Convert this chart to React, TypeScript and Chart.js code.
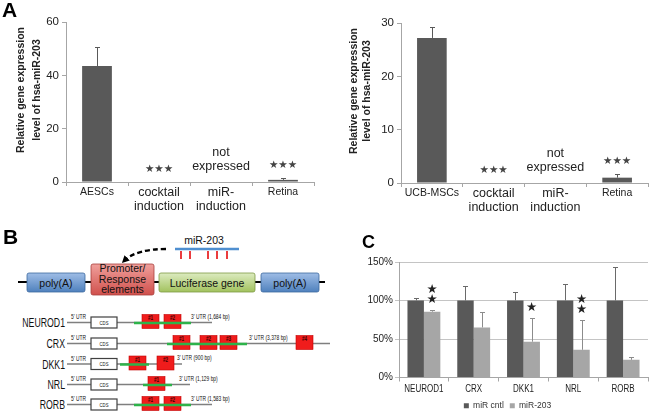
import React, { useEffect, useRef } from "react";
import { Chart, registerables } from "chart.js";
Chart.register(...registerables);

const FONT = '"Liberation Sans", Arial, sans-serif';
const STAR_FONT = '"DejaVu Sans", sans-serif';

// ---------- Panel A (left) ----------
const aLeftCategories = [["AESCs"], ["cocktail", "induction"], ["miR-", "induction"], ["Retina"]];
const aLeftValues = [43.5, 0, null, 0.8];
const aLeftErrors = [7.2, 0, null, 0.6];
// ---------- Panel A (right) ----------
const aRightCategories = [["UCB-MSCs"], ["cocktail", "induction"], ["miR-", "induction"], ["Retina"]];
const aRightValues = [27.2, 0, null, 1.0];
const aRightErrors = [2.1, 0, null, 0.7];
const aStars = ["", "★★★", "", "★★★"];
const aNotes = [[], [], ["not", "expressed"], []];
const aTitle = ["Relative gene expression", "level of hsa-miR-203"];

// ---------- Panel C ----------
const cCategories = ["NEUROD1", "CRX", "DKK1", "NRL", "RORB"];
const cSeriesNames = ["miR cntl", "miR-203"];
const cCntl = [100, 100, 100, 100, 100];
const cCntlErr = [3, 19, 11, 22, 44];
const c203 = [85.5, 65, 46.5, 36, 23];
const c203Err = [2, 20, 30.5, 39, 4];
const cStarCounts = [2, 0, 1, 2, 0];

// ---------- Panel B ----------
const geneNames = ["NEUROD1", "CRX", "DKK1", "NRL", "RORB"];
const utrTexts = ["3' UTR (1,684 bp)", "3' UTR (3,378 bp)", "3' UTR (900 bp)", "3' UTR (1,129 bp)", "3' UTR (1,583 bp)"];
const rowLineEnd = [212, 330, 182, 190, 212];
const rowGreen = [[134, 191], [167, 247], [120, 149], [143, 172], [134, 191]];
const rowSites = [[142, 164], [173, 200, 220, 296], [129, 157], [148], [142, 164]];
const rowUtrX = [191, 249, 177, 179, 191];
const rowY = [322.5, 343.5, 364, 384.5, 404.5];
const mirSiteX = [181, 190, 208, 217, 227];

const errorBarPlugin = {
  id: "errorBars",
  afterDatasetsDraw(chart: any) {
    const ctx = chart.ctx;
    const y = chart.scales.y;
    chart.data.datasets.forEach((ds: any, i: number) => {
      if (!ds.errors) return;
      const meta = chart.getDatasetMeta(i);
      meta.data.forEach((bar: any, j: number) => {
        const v = ds.data[j];
        const e = ds.errors[j];
        if (v == null || !e) return;
        const x = Math.round(bar.x) + 0.5;
        const y0 = y.getPixelForValue(v);
        const y1 = Math.round(y.getPixelForValue(v + e)) + 0.5;
        ctx.save();
        ctx.strokeStyle = ds.errorColor || "#595959";
        ctx.lineWidth = 1;
        ctx.beginPath();
        ctx.moveTo(x, y0);
        ctx.lineTo(x, y1);
        ctx.moveTo(x - 2.5, y1);
        ctx.lineTo(x + 2.5, y1);
        ctx.stroke();
        ctx.restore();
      });
    });
  },
};

function makeAChart(canvas: HTMLCanvasElement, p: any) {
  const marks = {
    id: "aMarks",
    afterDatasetsDraw(chart: any) {
      const { ctx } = chart;
      const xs = chart.scales.x;
      const ys = chart.scales.y;
      ctx.save();
      ctx.textAlign = "center";
      ctx.textBaseline = "middle";
      ctx.fillStyle = "#444";
      ctx.font = `10.5px ${STAR_FONT}`;
      aStars.forEach((s, i) => {
        if (!s) return;
        const top = (p.values[i] ?? 0) + (p.errors[i] ?? 0);
        ctx.fillText(s, xs.getPixelForValue(i), ys.getPixelForValue(top) - 13);
      });
      ctx.fillStyle = "#222";
      ctx.font = `12.5px ${FONT}`;
      aNotes.forEach((lines, i) => {
        lines.forEach((ln, k) => {
          const off = 15 + (lines.length - 1 - k) * 14;
          ctx.fillText(ln, xs.getPixelForValue(i), ys.getPixelForValue(0) - off);
        });
      });
      ctx.font = `bold 10.5px ${FONT}`;
      aTitle.forEach((ln, k) => {
        ctx.save();
        ctx.translate(p.titleX[k], p.titleY);
        ctx.rotate(-Math.PI / 2);
        ctx.fillText(ln, 0, 0);
        ctx.restore();
      });
      ctx.restore();
    },
  };
  return new Chart(canvas, {
    type: "bar",
    data: {
      labels: p.categories,
      datasets: [
        {
          data: p.values,
          errors: p.errors,
          errorColor: "#595959",
          backgroundColor: "#595959",
          borderWidth: 0,
          barPercentage: 0.48,
          categoryPercentage: 1,
        } as any,
      ],
    },
    options: {
      responsive: false,
      animation: false,
      events: [],
      layout: { padding: { left: 0, top: p.top, right: p.right, bottom: 0 } },
      plugins: { legend: { display: false }, tooltip: { enabled: false } },
      scales: {
        x: {
          offset: true,
          grid: { drawOnChartArea: false, drawTicks: true, tickLength: 4, color: "#a6a6a6", offset: true },
          border: { display: true, color: "#a6a6a6" },
          ticks: {
            padding: 0.4,
            color: "#222",
            maxRotation: 0,
            minRotation: 0,
            autoSkip: false,
            font: (c: any) => ({ family: FONT, size: c.index === 0 || c.index === 3 ? 10.5 : 12.5, lineHeight: 1.05 }),
          },
          afterFit: (s: any) => {
            s.height = p.xHeight;
          },
        },
        y: {
          min: 0,
          max: p.yMax,
          ticks: { stepSize: p.yStep, padding: 3, color: "#222", font: { family: FONT, size: 11.5 } },
          grid: { drawOnChartArea: false, drawTicks: true, tickLength: 4, color: "#a6a6a6" },
          border: { display: true, color: "#a6a6a6" },
          afterFit: (s: any) => {
            s.width = p.yWidth;
          },
        },
      },
    } as any,
    plugins: [errorBarPlugin, marks],
  });
}

function makeCChart(canvas: HTMLCanvasElement) {
  const marks = {
    id: "cMarks",
    afterDatasetsDraw(chart: any) {
      const { ctx } = chart;
      const meta = chart.getDatasetMeta(1);
      const xs = chart.scales.x;
      const ys = chart.scales.y;
      ctx.save();
      ctx.textAlign = "center";
      ctx.textBaseline = "middle";
      ctx.fillStyle = "#222";
      ctx.font = `12.5px ${STAR_FONT}`;
      cStarCounts.forEach((n, i) => {
        const top = ys.getPixelForValue(c203[i] + c203Err[i]);
        for (let k = 0; k < n; k++) {
          ctx.fillText("★", meta.data[i].x, top - 10 - k * 10);
        }
      });
      // condensed category labels (the reference uses a narrow face)
      ctx.font = `10px ${FONT}`;
      ctx.fillStyle = "#222";
      cCategories.forEach((lab, i) => {
        ctx.save();
        ctx.translate(xs.getPixelForValue(i), ys.bottom + 11.5);
        ctx.scale(0.8, 1);
        ctx.fillText(lab, 0, 0);
        ctx.restore();
      });
      ctx.restore();
    },
  };
  return new Chart(canvas, {
    type: "bar",
    data: {
      labels: cCategories,
      datasets: [
        { label: cSeriesNames[0], data: cCntl, errors: cCntlErr, errorColor: "#6a6a6a", backgroundColor: "#595959", borderWidth: 0 } as any,
        { label: cSeriesNames[1], data: c203, errors: c203Err, errorColor: "#8c8c8c", backgroundColor: "#a6a6a6", borderWidth: 0 } as any,
      ],
    },
    options: {
      responsive: false,
      animation: false,
      events: [],
      datasets: { bar: { barPercentage: 1, categoryPercentage: 0.66 } },
      layout: { padding: { left: 37, top: 12, right: 2, bottom: 0 } },
      plugins: {
        tooltip: { enabled: false },
        legend: {
          position: "bottom",
          align: "center",
          labels: { boxWidth: 5, boxHeight: 5, padding: 6, color: "#333", font: { family: FONT, size: 8.5 } },
        },
      },
      scales: {
        x: {
          grid: { drawOnChartArea: false, drawTicks: true, tickLength: 4, color: "#a6a6a6" },
          border: { display: true, color: "#a6a6a6" },
          ticks: { display: false },
          afterFit: (s: any) => {
            s.height = 18;
          },
        },
        y: {
          min: 0,
          max: 150,
          ticks: { stepSize: 50, padding: 2, color: "#222", font: { family: FONT, size: 10 }, callback: (v: any) => v + "%" },
          grid: { color: "#c4c4c4", drawTicks: true, tickLength: 4 },
          border: { display: true, color: "#a6a6a6" },
          afterFit: (s: any) => {
            s.width = 32;
          },
        },
      },
    } as any,
    plugins: [errorBarPlugin, marks],
  });
}

function Narrow(props: { x: number; y: number; size: number; text: string; anchor?: string; weight?: string; fill?: string }) {
  return (
    <text
      transform={`translate(${props.x},${props.y}) scale(0.7,1)`}
      fontSize={props.size}
      textAnchor={props.anchor || "start"}
      fontWeight={props.weight || "normal"}
      fill={props.fill || "#111"}
      fontFamily={FONT}
    >
      {props.text}
    </text>
  );
}

function DiagramB() {
  return (
    <svg width={330} height={193} viewBox="0 220 330 193" style={{ position: "absolute", left: 0, top: 220 }}>
      <defs>
        <linearGradient id="gBlue" x1="0" y1="0" x2="0" y2="1">
          <stop offset="0" stopColor="#9fbde6" />
          <stop offset="1" stopColor="#4f81bd" />
        </linearGradient>
        <linearGradient id="gRed" x1="0" y1="0" x2="0" y2="1">
          <stop offset="0" stopColor="#f0a09c" />
          <stop offset="1" stopColor="#d0504c" />
        </linearGradient>
        <linearGradient id="gGreen" x1="0" y1="0" x2="0" y2="1">
          <stop offset="0" stopColor="#dcebc0" />
          <stop offset="1" stopColor="#a2c25e" />
        </linearGradient>
        <marker id="arrowHead" viewBox="0 0 10 10" refX="6" refY="5" markerWidth="3.2" markerHeight="3.2" orient="auto">
          <path d="M0,0 L10,5 L0,10 z" fill="#000" />
        </marker>
      </defs>
      {/* miR-203 */}
      <text x={204} y={243.5} fontSize={10.5} textAnchor="middle" fontFamily={FONT} fill="#111">
        miR-203
      </text>
      <line x1={175} y1={249} x2={239} y2={249} stroke="#4f8fd0" strokeWidth={2.5} />
      {mirSiteX.map((x, i) => (
        <line key={i} x1={x} y1={251} x2={x} y2={259} stroke="#e8282a" strokeWidth={1.8} />
      ))}
      <path d="M166,249 Q136,249 124,261" fill="none" stroke="#000" strokeWidth={2.3} strokeDasharray="5,3" markerEnd="url(#arrowHead)" />
      {/* construct */}
      <line x1={18} y1={282} x2={325} y2={282} stroke="#000" strokeWidth={2} />
      <rect x={27} y={273} width={58} height={19} rx={2} fill="url(#gBlue)" stroke="#3e6aa0" strokeWidth={0.8} />
      <text x={56} y={286.5} fontSize={10.5} textAnchor="middle" fontFamily={FONT} fill="#111">poly(A)</text>
      <rect x={91} y={264} width={63} height={31} rx={2} fill="url(#gRed)" stroke="#a8403d" strokeWidth={0.8} />
      <text x={122.5} y={272} fontSize={10.5} textAnchor="middle" fontFamily={FONT} fill="#111">Promoter/</text>
      <text x={122.5} y={282.5} fontSize={10.5} textAnchor="middle" fontFamily={FONT} fill="#111">Response</text>
      <text x={122.5} y={293} fontSize={10.5} textAnchor="middle" fontFamily={FONT} fill="#111">elements</text>
      <rect x={159} y={273} width={96} height={19} rx={2} fill="url(#gGreen)" stroke="#7d9a45" strokeWidth={0.8} />
      <text x={207} y={286.5} fontSize={10.5} textAnchor="middle" fontFamily={FONT} fill="#111">Luciferase gene</text>
      <rect x={261} y={273} width={58} height={19} rx={2} fill="url(#gBlue)" stroke="#3e6aa0" strokeWidth={0.8} />
      <text x={290} y={286.5} fontSize={10.5} textAnchor="middle" fontFamily={FONT} fill="#111">poly(A)</text>
      {/* gene rows */}
      {geneNames.map((g, r) => {
        const y = rowY[r];
        return (
          <g key={g}>
            <line x1={67} y1={y} x2={rowLineEnd[r]} y2={y} stroke="#7f7f7f" strokeWidth={1.3} />
            <rect x={91} y={y - 5.5} width={26} height={11} fill="#fff" stroke="#404040" strokeWidth={1.2} />
            <Narrow x={104} y={y + 2} size={6} text="CDS" anchor="middle" />
            {rowSites[r].map((sx, k) => (
              <g key={k}>
                <rect x={sx} y={y - 8} width={17} height={14} fill="#f01c1c" stroke="#c40000" strokeWidth={0.6} />
                <Narrow x={sx + 8.5} y={y - 2.5} size={6.5} text={`#${k + 1}`} anchor="middle" weight="bold" fill="#3a0000" />
              </g>
            ))}
            <line x1={rowGreen[r][0]} y1={y + 0.5} x2={rowGreen[r][1]} y2={y + 0.5} stroke="#2db34a" strokeWidth={2.5} />
            <Narrow x={71} y={y - 3.5} size={7} text="5' UTR" />
            <Narrow x={rowUtrX[r]} y={y - 4} size={7} text={utrTexts[r]} />
            <Narrow x={65} y={y + 4.5} size={12.5} text={g} anchor="end" />
          </g>
        );
      })}
    </svg>
  );
}

const letterStyle: React.CSSProperties = {
  position: "absolute",
  fontFamily: FONT,
  fontWeight: "bold",
  lineHeight: 1,
  color: "#000",
};

export default function App() {
  const aLeftRef = useRef<HTMLCanvasElement>(null);
  const aRightRef = useRef<HTMLCanvasElement>(null);
  const cRef = useRef<HTMLCanvasElement>(null);

  useEffect(() => {
    document.body.style.margin = "0";
    Chart.defaults.font.family = FONT;
    const charts = [
      makeAChart(aLeftRef.current!, {
        categories: aLeftCategories,
        values: aLeftValues,
        errors: aLeftErrors,
        yMax: 60,
        yStep: 20,
        top: 22,
        right: 11,
        yWidth: 66,
        xHeight: 33,
        titleX: [21, 37.5],
        titleY: 90,
      }),
      makeAChart(aRightRef.current!, {
        categories: aRightCategories,
        values: aRightValues,
        errors: aRightErrors,
        yMax: 30,
        yStep: 10,
        top: 23,
        right: 2,
        yWidth: 76,
        xHeight: 32,
        titleX: [29, 42.5],
        titleY: 91,
      }),
      makeCChart(cRef.current!),
    ];
    return () => charts.forEach((c) => c.destroy());
  }, []);

  return (
    <div style={{ position: "fixed", left: 0, top: 0, width: 650, height: 413, overflow: "hidden", background: "#fff" }}>
      <DiagramB />
      <canvas ref={aLeftRef} width={325} height={215} style={{ position: "absolute", left: 0, top: 0 }} />
      <canvas ref={aRightRef} width={325} height={215} style={{ position: "absolute", left: 325, top: 0 }} />
      <canvas ref={cRef} width={320} height={170} style={{ position: "absolute", left: 330, top: 250 }} />
      <div style={{ ...letterStyle, left: 2, top: -1, fontSize: 21 }}>A</div>
      <div style={{ ...letterStyle, left: 3, top: 226, fontSize: 21 }}>B</div>
      <div style={{ ...letterStyle, left: 362, top: 233, fontSize: 18 }}>C</div>
    </div>
  );
}
